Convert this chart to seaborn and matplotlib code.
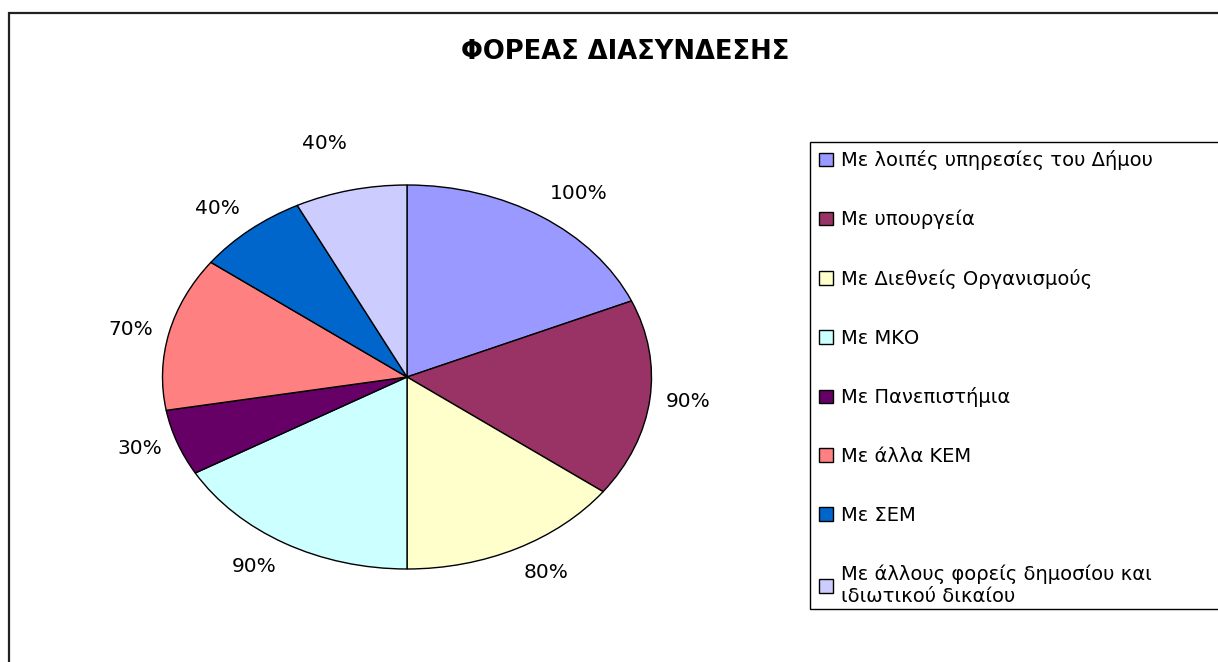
import numpy as np
import matplotlib
matplotlib.use("Agg")
import matplotlib.pyplot as plt
from matplotlib.patches import Rectangle
import seaborn as sns

# ---- data ----
categories = [
    "Με λοιπές υπηρεσίες του Δήμου",
    "Με υπουργεία",
    "Με Διεθνείς Οργανισμούς",
    "Με ΜΚΟ",
    "Με Πανεπιστήμια",
    "Με άλλα ΚΕΜ",
    "Με ΣΕΜ",
    "Με άλλους φορείς δημοσίου και\nιδιωτικού δικαίου",
]
values = [100, 90, 80, 90, 30, 70, 40, 40]
value_labels = ["100%", "90%", "80%", "90%", "30%", "70%", "40%", "40%"]
title = "ΦΟΡΕΑΣ ΔΙΑΣΥΝΔΕΣΗΣ"

# ---- style ----
colors = ["#9999FF", "#993366", "#FFFFCC", "#CCFFFF", "#660066", "#FF8080", "#0066CC", "#CCCCFF"]
label_nudge_px = [0, 0, 0, 0, 0, 0, 0, 22]

sns.set_theme(style="white")
plt.rcParams["font.family"] = ["DejaVu Sans"]

W, H = 1218, 662
fig = plt.figure(figsize=(W / 100, H / 100), dpi=100)
fig.patch.set_facecolor("white")

# outer chart border
fig.patches.append(Rectangle((9 / W, -0.05), 1.2, 1 - 13 / H + 0.05, transform=fig.transFigure,
                             fill=False, edgecolor="#222222", linewidth=1.6))
# legend border (extends past the right edge like the reference)
fig.patches.append(Rectangle((810 / W, 1 - 609 / H), 1.0, (609 - 142) / H, transform=fig.transFigure,
                             fill=False, edgecolor="black", linewidth=1.0))

# pie axes (stretched ellipse)
cx, cy, rx, ry = 407, 377, 244.5, 192
ax = fig.add_axes([(cx - 1.25 * rx) / W, (H - cy - 1.25 * ry) / H, 2.5 * rx / W, 2.5 * ry / H])
palette = sns.color_palette(colors)
wedges, _ = ax.pie(values, colors=palette, startangle=90, counterclock=False,
                   wedgeprops=dict(edgecolor="black", linewidth=1.0))
ax.set_aspect("auto")
ax.set_xlim(-1.25, 1.25)
ax.set_ylim(-1.25, 1.25)
ax.axis("off")

D = 16 * 0.72  # offset in points
for w, lab, nud in zip(wedges, value_labels, label_nudge_px):
    th = np.deg2rad((w.theta1 + w.theta2) / 2)
    c, s = np.cos(th), np.sin(th)
    ha = "left" if c > 0 else "right"
    if s > 0.5:
        va = "bottom"
    elif s < -0.5:
        va = "top"
    else:
        va = "center"
    ax.annotate(lab, xy=(c, s), xytext=(D * c, D * s + nud * 0.72), textcoords="offset points",
                ha=ha, va=va, fontsize=14.5, color="black", annotation_clip=False)

fig.text(625 / W, 1 - 52 / H, title, ha="center", va="center", fontsize=18.5, fontweight="bold",
         color="black")

leg = fig.legend(wedges, categories, loc="upper left", bbox_to_anchor=(811 / W, 1 - 142 / H),
                 frameon=False, fontsize=14,
                 handlelength=0.7, handleheight=0.7, handletextpad=0.4,
                 labelspacing=2.04, borderpad=0.42, borderaxespad=0)
for t in leg.get_texts():
    t.set_color("black")
for h in leg.legend_handles:
    h.set_edgecolor("black")
    h.set_linewidth(1.0)

fig.savefig("out.png", dpi=100, facecolor="white")
